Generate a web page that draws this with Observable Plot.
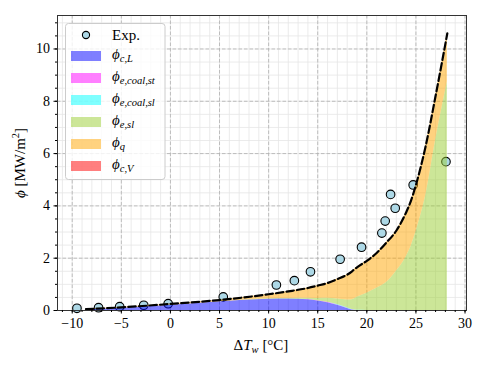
<!DOCTYPE html>
<html>
<head>
<meta charset="utf-8">
<script src="https://cdn.jsdelivr.net/npm/d3@7"></script>
<script src="https://cdn.jsdelivr.net/npm/@observablehq/plot@0.6"></script>
<style>
  html, body { margin: 0; padding: 0; background: #fff; }
  #chart { width: 488px; height: 366px; }
</style>
</head>
<body>
<div id="chart"></div>
<script>
// ---- Data ----
const expX = [-9.52, -7.32, -5.17, -2.72, -0.23, 5.38, 10.79, 12.62, 14.26, 17.28, 19.46, 21.53, 21.87, 22.42, 22.89, 24.72, 28.06];
const expY = [0.084, 0.107, 0.145, 0.2, 0.26, 0.52, 0.975, 1.14, 1.48, 1.96, 2.42, 2.96, 3.42, 4.44, 3.91, 4.8, 5.69];

const modelX = [-8.6, -5, 0, 5, 10, 12, 14, 15, 16, 17, 18, 18.5, 19, 20, 21, 22, 23, 24, 24.5, 25, 25.5, 26, 27, 28.2];
const phiCL =      [0.03, 0.09, 0.2, 0.33, 0.43, 0.44, 0.41, 0.36, 0.3, 0.2, 0.08, 0.02, 0, 0, 0, 0, 0, 0, 0, 0, 0, 0, 0, 0];
const phiCoalSt =  [0, 0, 0, 0, 0, 0, 0.01, 0.01, 0.015, 0.015, 0.01, 0.005, 0, 0, 0, 0, 0, 0, 0, 0, 0, 0, 0, 0];
const phiCoalSl =  [0, 0, 0, 0, 0, 0, 0, 0, 0, 0.01, 0.015, 0.01, 0.005, 0, 0, 0, 0, 0, 0, 0, 0, 0, 0, 0];
const phiESl =     [0, 0, 0, 0, 0.02, 0.02, 0.05, 0.09, 0.15, 0.21, 0.3, 0.38, 0.5, 0.66, 0.85, 1.07, 1.5, 2.05, 2.45, 3.0, 3.65, 4.4, 6.5, 8.75];
const phiQ =       [0.02, 0.03, 0.05, 0.07, 0.17, 0.27, 0.39, 0.49, 0.58, 0.77, 0.96, 1.08, 1.15, 1.24, 1.35, 1.53, 1.55, 1.7, 1.75, 1.8, 1.85, 1.9, 1.7, 1.85];
const phiCV =      [0, 0, 0, 0, 0, 0, 0, 0, 0, 0, 0, 0, 0, 0, 0, 0, 0, 0, 0, 0, 0, 0, 0, 0];
const phiTotal =   [0.05, 0.12, 0.25, 0.4, 0.62, 0.73, 0.86, 0.95, 1.05, 1.2, 1.37, 1.5, 1.65, 1.9, 2.2, 2.6, 3.05, 3.75, 4.2, 4.8, 5.5, 6.3, 8.2, 10.6];

const seriesNames = ["cL", "coalSt", "coalSl", "eSl", "q", "cV"];
const seriesColors = ["#0000ff", "#ff00ff", "#00ffff", "#9acd32", "#ffa500", "#ff0000"];
const seriesSubs = ["c,L", "e,coal,st", "e,coal,sl", "e,sl", "q", "c,V"];

const xMajor = [-10, -5, 0, 5, 10, 15, 20, 25, 30];
const xMinor = d3.range(-11, 31, 1);
const yMajor = [0, 2, 4, 6, 8, 10];
const yMinor = d3.range(0, 11.3, 0.5);

// ---- Build tables ----
const seriesVals = [phiCL, phiCoalSt, phiCoalSl, phiESl, phiQ, phiCV];
const stackRows = [];
seriesNames.forEach((s, k) => modelX.forEach((x, i) => stackRows.push({x, y: seriesVals[k][i], s})));
const exp = expX.map((x, i) => ({x, y: expY[i]}));
const total = modelX.map((x, i) => ({x, y: phiTotal[i]}));

const minusFmt = d => (d < 0 ? "\u2212" + Math.abs(d) : String(d));
const FONT = "'Liberation Serif', 'DejaVu Serif', serif";
const PHI = "\u03d5";

const plot = Plot.plot({
  width: 488,
  height: 366,
  marginLeft: 57,
  marginRight: 22,
  marginTop: 15,
  marginBottom: 56,
  style: {fontFamily: FONT, fontSize: "14px", background: "#fff", color: "#000"},
  x: {domain: [-11.5, 30.15]},
  y: {domain: [0, 11.28]},
  color: {domain: seriesNames, range: seriesColors},
  marks: [
    Plot.ruleX(xMinor, {stroke: "#e6e6e6", strokeWidth: 0.8}),
    Plot.ruleY(yMinor, {stroke: "#e6e6e6", strokeWidth: 0.8}),
    Plot.ruleX(xMajor, {stroke: "#b0b0b0", strokeWidth: 0.8, strokeDasharray: "3.5,2"}),
    Plot.ruleY(yMajor, {stroke: "#b0b0b0", strokeWidth: 0.8, strokeDasharray: "3.5,2"}),
    Plot.dot(exp, {x: "x", y: "y", r: 4.3, fill: "#add8e6", stroke: "#000", strokeWidth: 1.1}),
    Plot.areaY(stackRows, {x: "x", y: "y", fill: "s", z: "s", order: seriesNames, fillOpacity: 0.5, curve: "monotone-x"}),
    Plot.line(total, {x: "x", y: "y", stroke: "#000", strokeWidth: 2.2, strokeDasharray: "7.4,3.2", curve: "monotone-x"}),
    Plot.frame({stroke: "#333", strokeWidth: 1}),
    Plot.axisX(xMajor, {tickSize: 3.5, tickPadding: 4, tickFormat: minusFmt, label: null, fontSize: 14}),
    Plot.axisX(xMinor, {tickSize: 2, tickFormat: () => "", label: null}),
    Plot.axisY(yMajor, {tickSize: 3.5, tickPadding: 4, tickFormat: minusFmt, label: null, fontSize: 14}),
    Plot.axisY(yMinor, {tickSize: 2, tickFormat: () => "", label: null})
  ]
});

document.getElementById("chart").appendChild(plot);

// ---- Axis labels & legend ----
const svg = d3.select(plot);

const xl = svg.append("text")
  .attr("x", 261).attr("y", 350)
  .attr("text-anchor", "middle")
  .style("font-family", FONT).style("font-size", "15px").attr("fill", "#000");
xl.append("tspan").text("\u0394");
xl.append("tspan").attr("font-style", "italic").text("T");
xl.append("tspan").attr("font-style", "italic").attr("font-size", "10.5px").attr("dy", 3).text("w");
xl.append("tspan").attr("dy", -3).text(" [\u00b0C]");

const yl = svg.append("text")
  .attr("transform", "translate(25,163) rotate(-90)")
  .attr("text-anchor", "middle")
  .style("font-family", FONT).style("font-size", "15px").attr("fill", "#000");
yl.append("tspan").attr("font-style", "italic").text(PHI);
yl.append("tspan").text(" [MW/m");
yl.append("tspan").attr("font-size", "10.5px").attr("dy", -6).text("2");
yl.append("tspan").attr("dy", 6).text("]");

const lg = svg.append("g").attr("text-anchor", "start");
lg.append("rect")
  .attr("x", 65.5).attr("y", 23.5).attr("width", 99.5).attr("height", 156)
  .attr("rx", 3).attr("fill", "#fff").attr("fill-opacity", 0.8)
  .attr("stroke", "#cccccc").attr("stroke-width", 1);

lg.append("circle").attr("cx", 86).attr("cy", 35).attr("r", 3.6)
  .attr("fill", "#add8e6").attr("stroke", "#000").attr("stroke-width", 1.1);
lg.append("text").attr("x", 112).attr("y", 40).attr("text-anchor", "start")
  .style("font-family", FONT).style("font-size", "15px").attr("fill", "#000").text("Exp.");

seriesNames.forEach((s, k) => {
  const cy = 56 + k * 22;
  lg.append("rect").attr("x", 71).attr("y", cy - 5).attr("width", 30).attr("height", 10)
    .attr("fill", seriesColors[k]).attr("fill-opacity", 0.5);
  const t = lg.append("text").attr("x", 112).attr("y", cy + 3).attr("text-anchor", "start")
    .style("font-family", FONT).style("font-size", "15px").attr("fill", "#000");
  t.append("tspan").attr("font-style", "italic").text(PHI);
  t.append("tspan").attr("font-style", "italic").attr("font-size", "10.5px").attr("dy", 3).text(seriesSubs[k]);
});
</script>
</body>
</html>
